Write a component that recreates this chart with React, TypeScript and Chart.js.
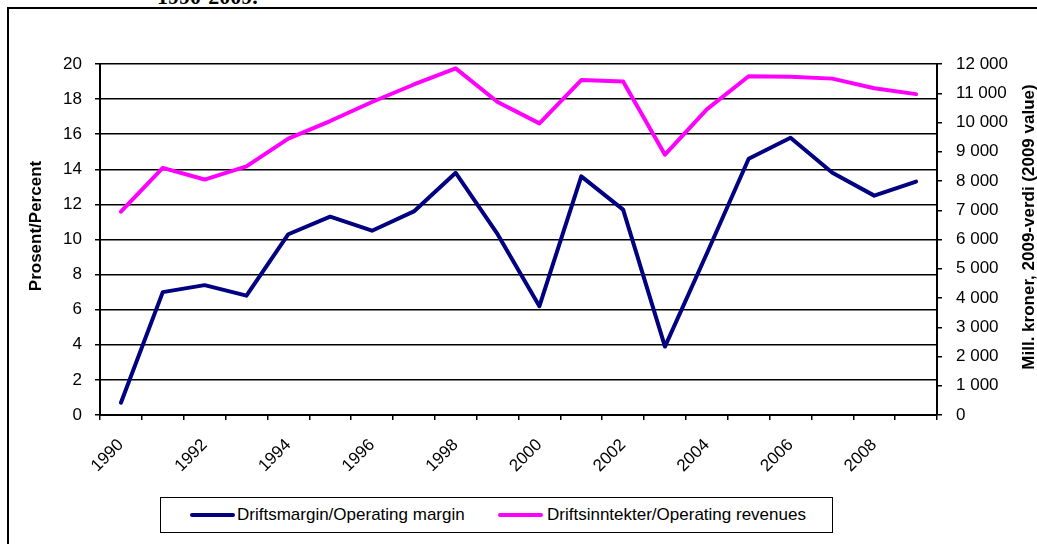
import React, { useEffect, useRef } from "react";
import { Chart, registerables } from "chart.js";

Chart.register(...registerables);

const years = [
  "1990", "1991", "1992", "1993", "1994", "1995", "1996", "1997", "1998", "1999",
  "2000", "2001", "2002", "2003", "2004", "2005", "2006", "2007", "2008", "2009",
];

// Driftsmargin / Operating margin (percent, left axis)
const marginPct = [
  0.7, 7.0, 7.4, 6.8, 10.3, 11.3, 10.5, 11.6, 13.8, 10.3,
  6.2, 13.6, 11.7, 3.9, 9.2, 14.6, 15.8, 13.8, 12.5, 13.3,
];

// Driftsinntekter / Operating revenues (mill. NOK, 2009 value, right axis)
const revenuesMill = [
  6950, 8450, 8050, 8500, 9450, 10050, 10700, 11300, 11850, 10700,
  9970, 11450, 11400, 8900, 10450, 11580, 11560, 11500, 11170, 10970,
];

const marginLabel = "Driftsmargin/Operating margin";
const revenueLabel = "Driftsinntekter/Operating revenues";
const leftTitle = "Prosent/Percent";
const rightTitle = "Mill. kroner, 2009-verdi (2009 value)";
const headingTail = "1990-2009.";

const NAVY = "#000080";
const MAGENTA = "#ff00ff";
const FONT = '"Liberation Sans", Arial, Helvetica, sans-serif';

const fmtThousands = (v: number) =>
  String(v).replace(/\B(?=(\d{3})+(?!\d))/g, " ");

const axisTitlesPlugin = {
  id: "axisTitlesPlugin",
  afterDraw(chart: any) {
    const ctx = chart.ctx;
    ctx.save();
    ctx.fillStyle = "#000";
    ctx.font = `bold 17px ${FONT}`;
    ctx.textAlign = "center";
    ctx.textBaseline = "middle";
    ctx.save();
    ctx.translate(36, 226);
    ctx.rotate(-Math.PI / 2);
    ctx.fillText(leftTitle, 0, 0);
    ctx.restore();
    ctx.save();
    ctx.translate(1029, 227);
    ctx.rotate(-Math.PI / 2);
    ctx.fillText(rightTitle, 0, 0);
    ctx.restore();
    ctx.restore();
  },
};

export default function App() {
  const canvasRef = useRef<HTMLCanvasElement | null>(null);

  useEffect(() => {
    if (!canvasRef.current) return;
    const chart = new Chart(canvasRef.current, {
      type: "line",
      data: {
        labels: years,
        datasets: [
          {
            label: marginLabel,
            data: marginPct,
            borderColor: NAVY,
            backgroundColor: NAVY,
            borderWidth: 4,
            pointRadius: 0,
            tension: 0,
            borderCapStyle: "round",
            borderJoinStyle: "round",
            yAxisID: "y",
          },
          {
            label: revenueLabel,
            data: revenuesMill,
            borderColor: MAGENTA,
            backgroundColor: MAGENTA,
            borderWidth: 4,
            pointRadius: 0,
            tension: 0,
            borderCapStyle: "round",
            borderJoinStyle: "round",
            yAxisID: "y1",
          },
        ],
      },
      options: {
        responsive: false,
        animation: false,
        layout: { padding: { top: 64, left: 0, right: 0, bottom: 0 } },
        plugins: {
          legend: { display: false },
          title: { display: false },
          tooltip: { enabled: false },
        },
        scales: {
          x: {
            offset: true,
            grid: {
              display: true,
              drawOnChartArea: false,
              drawTicks: true,
              tickLength: 5,
              offset: true,
              color: "#000",
              lineWidth: 1.5,
            },
            border: { display: true, color: "#000", width: 2 },
            ticks: {
              autoSkip: false,
              minRotation: 45,
              maxRotation: 45,
              padding: 15,
              color: "#000",
              font: { family: FONT, size: 17 },
              callback: (_v: any, i: number) => (i % 2 === 0 ? years[i] : ""),
            },
            afterFit: (s: any) => {
              s.height = 129;
            },
          },
          y: {
            position: "left",
            min: 0,
            max: 20,
            grid: {
              color: "#000",
              lineWidth: 1.5,
              tickLength: 5,
            },
            border: { display: true, color: "#000", width: 2 },
            ticks: {
              stepSize: 2,
              padding: 13,
              color: "#000",
              font: { family: FONT, size: 17 },
            },
            afterFit: (s: any) => {
              s.width = 100;
            },
          },
          y1: {
            position: "right",
            min: 0,
            max: 12000,
            grid: {
              drawOnChartArea: false,
              color: "#000",
              lineWidth: 1.5,
              tickLength: 5,
            },
            border: { display: true, color: "#000", width: 2 },
            ticks: {
              stepSize: 1000,
              padding: 14,
              color: "#000",
              font: { family: FONT, size: 17 },
              callback: (v: any) => fmtThousands(Number(v)),
            },
            afterFit: (s: any) => {
              s.width = 100;
            },
          },
        },
      },
      plugins: [axisTitlesPlugin],
    });
    return () => chart.destroy();
  }, []);

  const legendText: React.CSSProperties = {
    position: "absolute",
    top: 0,
    height: 33,
    lineHeight: "33px",
    fontFamily: FONT,
    fontSize: 17,
    color: "#000",
    whiteSpace: "nowrap",
  };
  const legendLine = (color: string, left: number): React.CSSProperties => ({
    position: "absolute",
    left,
    top: 15,
    width: 45,
    height: 4,
    background: color,
    borderRadius: 2,
  });

  return (
    <div
      style={{
        position: "fixed",
        left: 0,
        top: 0,
        width: 1037,
        height: 544,
        overflow: "hidden",
        background: "#fff",
      }}
    >
      <div
        style={{
          position: "absolute",
          left: 7,
          top: 7,
          width: 1100,
          height: 600,
          borderLeft: "2px solid #000",
          borderTop: "2px solid #000",
        }}
      />
      <span
        style={{
          position: "absolute",
          left: 157,
          top: -14,
          fontFamily: '"Liberation Serif", "Times New Roman", serif',
          fontWeight: "bold",
          fontSize: 22,
          lineHeight: "22px",
          whiteSpace: "nowrap",
          color: "#000",
        }}
      >
        {headingTail}
      </span>
      <canvas
        ref={canvasRef}
        width={1037}
        height={544}
        style={{ position: "absolute", left: 0, top: 0, width: 1037, height: 544 }}
      />
      <div
        style={{
          position: "absolute",
          left: 160,
          top: 497,
          width: 673,
          height: 36,
          border: "1.5px solid #000",
          boxSizing: "border-box",
          background: "#fff",
        }}
      >
        <div style={legendLine(NAVY, 29)} />
        <div style={{ ...legendText, left: 76 }}>{marginLabel}</div>
        <div style={legendLine(MAGENTA, 337)} />
        <div style={{ ...legendText, left: 386 }}>{revenueLabel}</div>
      </div>
    </div>
  );
}
